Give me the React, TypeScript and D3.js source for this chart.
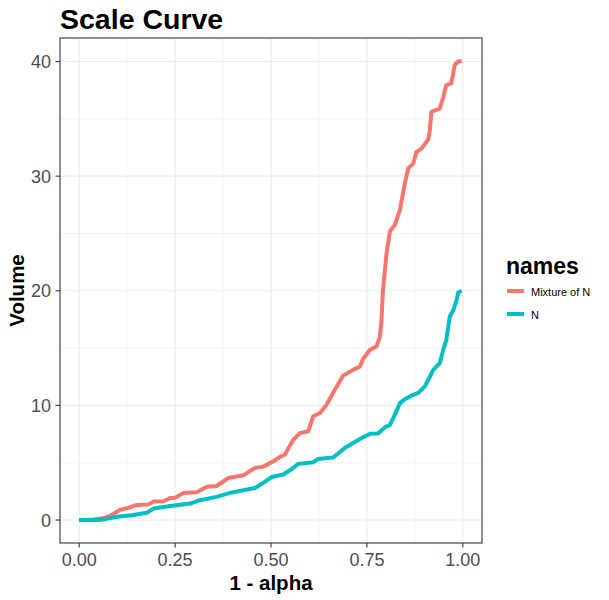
import React from "react";
import * as d3 from "d3";

const seriesNames = ["Mixture of N", "N"];
const seriesColors = ["#F8766D", "#00BFC4"];

const mixAlpha = [0, 0.037, 0.06, 0.08, 0.107, 0.128, 0.15, 0.18, 0.194, 0.22, 0.237, 0.25, 0.272, 0.306, 0.333, 0.358, 0.389, 0.428, 0.458, 0.48, 0.506, 0.523, 0.536, 0.558, 0.576, 0.597, 0.61, 0.628, 0.645, 0.662, 0.688, 0.714, 0.732, 0.74, 0.758, 0.775, 0.784, 0.788, 0.792, 0.801, 0.81, 0.823, 0.836, 0.849, 0.858, 0.871, 0.879, 0.892, 0.91, 0.914, 0.918, 0.94, 0.949, 0.957, 0.97, 0.979, 0.988, 0.997];
const mixVolume = [0, 0.05, 0.15, 0.35, 0.9, 1.06, 1.32, 1.35, 1.62, 1.64, 1.93, 1.95, 2.35, 2.42, 2.9, 2.97, 3.67, 3.9, 4.55, 4.66, 5.12, 5.5, 5.7, 7.0, 7.6, 7.74, 9.05, 9.34, 10.07, 11.1, 12.6, 13.1, 13.4, 14.05, 14.86, 15.15, 16.0, 17.5, 20.1, 23.2, 25.2, 25.75, 27.06, 29.4, 30.7, 31.1, 32.1, 32.4, 33.2, 34.0, 35.6, 35.9, 36.9, 37.95, 38.1, 39.7, 40.0, 40.05];

const nAlpha = [0, 0.055, 0.098, 0.137, 0.176, 0.194, 0.237, 0.289, 0.315, 0.358, 0.393, 0.458, 0.48, 0.502, 0.532, 0.549, 0.571, 0.61, 0.623, 0.662, 0.693, 0.736, 0.758, 0.779, 0.797, 0.81, 0.823, 0.836, 0.849, 0.866, 0.884, 0.901, 0.914, 0.923, 0.94, 0.949, 0.957, 0.966, 0.975, 0.984, 0.988, 0.997];
const nVolume = [0, 0, 0.28, 0.42, 0.63, 1.0, 1.22, 1.44, 1.73, 2.02, 2.37, 2.8, 3.24, 3.76, 3.97, 4.34, 4.9, 5.04, 5.33, 5.45, 6.3, 7.16, 7.52, 7.55, 8.1, 8.3, 9.2, 10.2, 10.55, 10.85, 11.1, 11.66, 12.5, 13.1, 13.7, 14.86, 15.7, 17.76, 18.3, 19.2, 19.85, 20.0];

const xTicks = [0, 0.25, 0.5, 0.75, 1];
const xTickLabels = ["0.00", "0.25", "0.50", "0.75", "1.00"];
const xMinor = [0.125, 0.375, 0.625, 0.875];
const yTicks = [0, 10, 20, 30, 40];
const yMinor = [5, 15, 25, 35];

const FONT = "'Liberation Sans', Arial, Helvetica, sans-serif";

export default function App() {
  const W = 609, H = 600;
  const left = 60, right = 482, top = 38, bottom = 543;
  const xData: [number, number] = [0, 1];
  const yData: [number, number] = [0, 40.05];
  const xPad = (xData[1] - xData[0]) * 0.05;
  const yPad = (yData[1] - yData[0]) * 0.05;
  const x = d3.scaleLinear().domain([xData[0] - xPad, xData[1] + xPad]).range([left, right]);
  const y = d3.scaleLinear().domain([yData[0] - yPad, yData[1] + yPad]).range([bottom, top]);

  const series = [
    { name: seriesNames[0], color: seriesColors[0], pts: mixAlpha.map((a, i) => [a, mixVolume[i]] as [number, number]) },
    { name: seriesNames[1], color: seriesColors[1], pts: nAlpha.map((a, i) => [a, nVolume[i]] as [number, number]) },
  ];
  const line = d3.line<[number, number]>().x(d => x(d[0])).y(d => y(d[1]));

  return (
    <svg width={W} height={H} style={{ position: "fixed", left: 0, top: 0, background: "#fff" }} fontFamily={FONT}>
      <rect x={0} y={0} width={W} height={H} fill="#fff" />
      {xMinor.map(v => <line key={"xm" + v} x1={x(v)} x2={x(v)} y1={top} y2={bottom} stroke="#EBEBEB" strokeWidth={0.6} />)}
      {yMinor.map(v => <line key={"ym" + v} y1={y(v)} y2={y(v)} x1={left} x2={right} stroke="#EBEBEB" strokeWidth={0.6} />)}
      {xTicks.map(v => <line key={"xg" + v} x1={x(v)} x2={x(v)} y1={top} y2={bottom} stroke="#EBEBEB" strokeWidth={1.1} />)}
      {yTicks.map(v => <line key={"yg" + v} y1={y(v)} y2={y(v)} x1={left} x2={right} stroke="#EBEBEB" strokeWidth={1.1} />)}
      {series.map(s => (
        <path key={s.name} d={line(s.pts) || ""} fill="none" stroke={s.color} strokeWidth={4} strokeLinejoin="round" />
      ))}
      <rect x={left} y={top} width={right - left} height={bottom - top} fill="none" stroke="#333333" strokeWidth={1.1} />
      {xTicks.map((v, i) => (
        <g key={"xt" + v}>
          <line x1={x(v)} x2={x(v)} y1={bottom} y2={bottom + 4.5} stroke="#333333" strokeWidth={1.1} />
          <text x={x(v)} y={bottom + 23} textAnchor="middle" fontSize={18} fill="#4D4D4D">{xTickLabels[i]}</text>
        </g>
      ))}
      {yTicks.map(v => (
        <g key={"yt" + v}>
          <line x1={left - 4.5} x2={left} y1={y(v)} y2={y(v)} stroke="#333333" strokeWidth={1.1} />
          <text x={left - 9} y={y(v) + 6.5} textAnchor="end" fontSize={18} fill="#4D4D4D">{v}</text>
        </g>
      ))}
      <text x={left} y={29} fontSize={28.5} fontWeight="bold" fill="#000">Scale Curve</text>
      <text x={(left + right) / 2} y={590} textAnchor="middle" fontSize={20.5} fontWeight="bold" fill="#000">1 - alpha</text>
      <text transform={`translate(24, ${(top + bottom) / 2}) rotate(-90)`} textAnchor="middle" fontSize={20.5} fontWeight="bold" fill="#000">Volume</text>
      <text x={506} y={274} fontSize={23} fontWeight="bold" fill="#000">names</text>
      {series.map((s, i) => (
        <g key={"lg" + s.name} transform={`translate(0, ${291 + i * 23})`}>
          <line x1={507} x2={524} y1={0} y2={0} stroke={s.color} strokeWidth={4} />
          <text x={531} y={4.5} fontSize={11} fill="#000">{s.name}</text>
        </g>
      ))}
    </svg>
  );
}
